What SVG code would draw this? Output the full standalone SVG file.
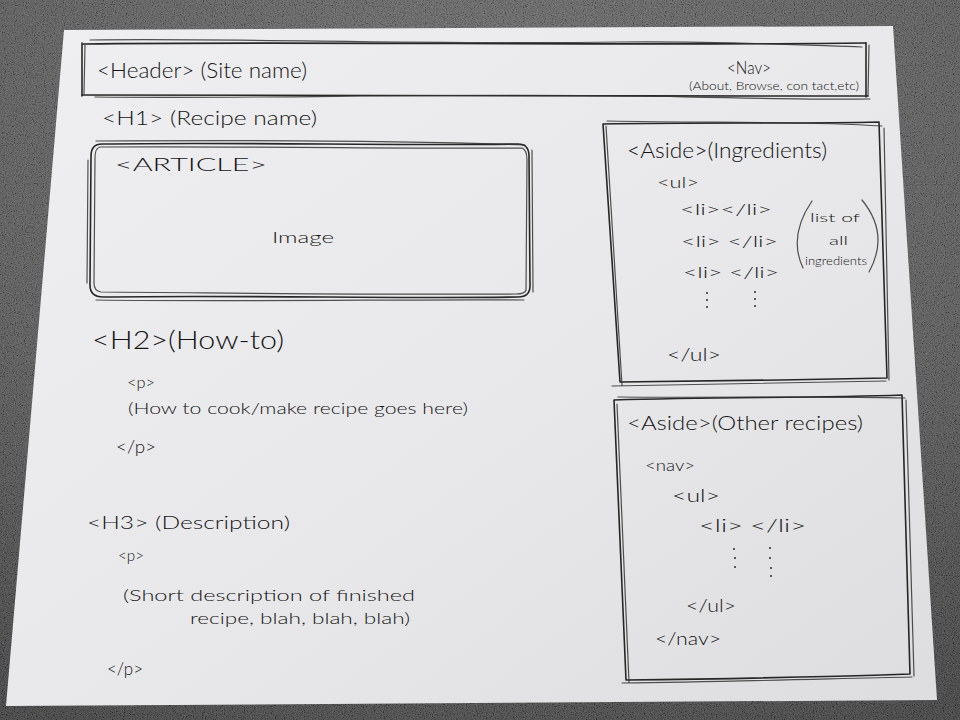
<svg xmlns="http://www.w3.org/2000/svg" width="960" height="720" viewBox="0 0 960 720">
  <defs>
    <filter id="grain" x="0" y="0" width="100%" height="100%">
      <feTurbulence type="fractalNoise" baseFrequency="0.9" numOctaves="2" seed="4" result="n"/>
      <feColorMatrix in="n" type="matrix" values="1.8 0 0 0 -0.45  1.8 0 0 0 -0.45  1.8 0 0 0 -0.45  0 0 0 0 1"/>
    </filter>
    <radialGradient id="tableShade" cx="0.5" cy="0.15" r="0.95">
      <stop offset="0" stop-color="#626262"/>
      <stop offset="0.6" stop-color="#505050"/>
      <stop offset="1" stop-color="#363636"/>
    </radialGradient>
    <linearGradient id="paperShade" x1="0" y1="0" x2="1" y2="1">
      <stop offset="0" stop-color="#efeff1"/>
      <stop offset="0.55" stop-color="#e8e8ea"/>
      <stop offset="1" stop-color="#dddddf"/>
    </linearGradient>
    <style>
      .hw { font-family: Lato, "Open Sans", "DejaVu Sans", sans-serif; font-weight: 300; fill: #141414; }
      .pen { fill: none; stroke: #262626; stroke-width: 1.6; stroke-linecap: round; stroke-linejoin: round; }
      .pen2 { fill: none; stroke: #333; stroke-width: 1.2; stroke-linecap: round; stroke-linejoin: round; opacity: 0.85; }
      .dot { fill: #2a2a2a; }
    </style>
  </defs>

  <!-- table surface -->
  <rect x="0" y="0" width="960" height="720" fill="url(#tableShade)"/>
  <rect x="0" y="0" width="960" height="720" filter="url(#grain)" opacity="0.2"/>

  <!-- sheet of paper -->
  <polygon points="64,30 893,26 937,700 6,706" fill="url(#paperShade)"/>

  <!-- header band -->
  <g id="header">
    <path class="pen" d="M83,44 C300,41 600,46 866,43"/>
    <path class="pen2" d="M90,40 C250,38 420,45 620,42 C720,41 800,45 862,47"/>
    <path class="pen" d="M82,95 C300,93 600,97 868,96"/>
    <path class="pen2" d="M95,97 C280,99 420,93 640,96 C740,98 820,100 870,99"/>
    <path class="pen" d="M82,43 L82,96"/>
    <path class="pen2" d="M85,45 L84,94"/>
    <path class="pen" d="M866,43 L866,97"/>
    <path class="pen2" d="M869,45 L868,96"/>
    <text class="hw" x="97" y="78" font-size="21" textLength="210" lengthAdjust="spacingAndGlyphs">&lt;Header&gt; (Site name)</text>
    <text class="hw" x="727" y="74" font-size="17" textLength="44" lengthAdjust="spacingAndGlyphs">&lt;Nav&gt;</text>
    <text class="hw" x="689" y="90" font-size="11.5" textLength="170" lengthAdjust="spacingAndGlyphs">(About, Browse, con tact,etc)</text>
  </g>

  <g id="h1">
    <text class="hw" x="102" y="125" font-size="20" textLength="215" lengthAdjust="spacingAndGlyphs">&lt;H1&gt; (Recipe name)</text>
  </g>

  <!-- article with image -->
  <g id="article">
    <path class="pen" d="M102,144 C250,142 400,146 518,144 Q529,144 529,156 L530,286 Q530,297 518,297 C400,299 250,295 103,297 Q90,297 90,285 L91,156 Q91,144 102,144 Z"/>
    <path class="pen2" d="M100,147 C260,146 410,149 522,148 Q527,150 527,160 L526,290 Q525,294 516,294 C380,295 240,293 101,292 Q94,291 94,283 L95,158 Q95,148 100,147 Z"/>
    <path class="pen2" d="M96,141 C240,140 420,141 525,145 M532,150 L533,292 M88,160 L87,283 M96,300 C250,302 420,299 524,300"/>
    <text class="hw" x="115" y="171" font-size="18" textLength="152" lengthAdjust="spacingAndGlyphs">&lt;ARTICLE&gt;</text>
    <text class="hw" x="272" y="243" font-size="16" textLength="62" lengthAdjust="spacingAndGlyphs">Image</text>
  </g>

  <g id="h2">
    <text class="hw" x="92" y="349" font-size="26" textLength="192" lengthAdjust="spacingAndGlyphs">&lt;H2&gt;(How-to)</text>
    <text class="hw" x="127" y="388" font-size="16" textLength="28" lengthAdjust="spacingAndGlyphs">&lt;p&gt;</text>
    <text class="hw" x="128" y="414" font-size="15" textLength="340" lengthAdjust="spacingAndGlyphs">(How to cook/make recipe goes here)</text>
    <text class="hw" x="116" y="453" font-size="17" textLength="40" lengthAdjust="spacingAndGlyphs">&lt;/p&gt;</text>
  </g>

  <g id="h3">
    <text class="hw" x="87" y="529" font-size="17" textLength="203" lengthAdjust="spacingAndGlyphs">&lt;H3&gt; (Description)</text>
    <text class="hw" x="118" y="561" font-size="15" textLength="26" lengthAdjust="spacingAndGlyphs">&lt;p&gt;</text>
    <text class="hw" x="123" y="601" font-size="16" textLength="292" lengthAdjust="spacingAndGlyphs">(Short description of finished</text>
    <text class="hw" x="190" y="624" font-size="16" textLength="220" lengthAdjust="spacingAndGlyphs">recipe, blah, blah, blah)</text>
    <text class="hw" x="107" y="675" font-size="17" textLength="36" lengthAdjust="spacingAndGlyphs">&lt;/p&gt;</text>
  </g>

  <!-- ingredients aside -->
  <g id="aside-ingredients">
    <path class="pen" d="M603,124 C700,122 800,124 879,122 L887,378 C800,380 700,381 620,382 Z"/>
    <path class="pen2" d="M607,121 C720,123 800,121 882,126 M884,128 L889,380 M606,126 L622,385 M612,386 C720,384 820,382 886,381"/>
    <text class="hw" x="627" y="158" font-size="22" textLength="200" lengthAdjust="spacingAndGlyphs">&lt;Aside&gt;(Ingredients)</text>
    <text class="hw" x="657" y="188" font-size="16" textLength="42" lengthAdjust="spacingAndGlyphs">&lt;ul&gt;</text>
    <text class="hw" x="680" y="215" font-size="16" textLength="92" lengthAdjust="spacingAndGlyphs">&lt;li&gt;&lt;/li&gt;</text>
    <text class="hw" x="681" y="247" font-size="16" textLength="97" lengthAdjust="spacingAndGlyphs">&lt;li&gt; &lt;/li&gt;</text>
    <text class="hw" x="683" y="278" font-size="16" textLength="96" lengthAdjust="spacingAndGlyphs">&lt;li&gt; &lt;/li&gt;</text>
    <circle class="dot" cx="707" cy="293" r="1"/>
    <circle class="dot" cx="707" cy="300" r="1"/>
    <circle class="dot" cx="707" cy="307" r="1"/>
    <circle class="dot" cx="755" cy="292" r="1"/>
    <circle class="dot" cx="755" cy="299" r="1"/>
    <circle class="dot" cx="755" cy="306" r="1"/>
    <text class="hw" x="667" y="361" font-size="18" textLength="54" lengthAdjust="spacingAndGlyphs">&lt;/ul&gt;</text>
    <path class="pen2" d="M812,201 Q788,236 803,268"/>
    <path class="pen2" d="M862,200 Q890,234 869,272"/>
    <text class="hw" x="810" y="222" font-size="12.5" textLength="50" lengthAdjust="spacingAndGlyphs">list of</text>
    <text class="hw" x="829" y="245" font-size="12" textLength="19" lengthAdjust="spacingAndGlyphs">all</text>
    <text class="hw" x="805" y="265" font-size="11" textLength="62" lengthAdjust="spacingAndGlyphs">ingredients</text>
  </g>

  <!-- other recipes aside -->
  <g id="aside-other">
    <path class="pen" d="M614,400 C720,397 820,398 902,395 L910,674 C820,677 720,679 626,680 Z"/>
    <path class="pen2" d="M618,397 C720,398 820,396 905,398 M906,400 L914,676 M617,404 L629,682 M622,683 C720,682 820,679 912,677"/>
    <text class="hw" x="627" y="430" font-size="20" textLength="236" lengthAdjust="spacingAndGlyphs">&lt;Aside&gt;(Other recipes)</text>
    <text class="hw" x="645" y="471" font-size="16" textLength="50" lengthAdjust="spacingAndGlyphs">&lt;nav&gt;</text>
    <text class="hw" x="672" y="502" font-size="17" textLength="48" lengthAdjust="spacingAndGlyphs">&lt;ul&gt;</text>
    <text class="hw" x="699" y="532" font-size="17" textLength="107" lengthAdjust="spacingAndGlyphs">&lt;li&gt; &lt;/li&gt;</text>
    <circle class="dot" cx="734" cy="549" r="1"/>
    <circle class="dot" cx="735" cy="558" r="1"/>
    <circle class="dot" cx="735" cy="567" r="1"/>
    <circle class="dot" cx="770" cy="548" r="1"/>
    <circle class="dot" cx="770" cy="558" r="1"/>
    <circle class="dot" cx="771" cy="568" r="1"/>
    <circle class="dot" cx="771" cy="576" r="1"/>
    <text class="hw" x="686" y="612" font-size="17" textLength="50" lengthAdjust="spacingAndGlyphs">&lt;/ul&gt;</text>
    <text class="hw" x="655" y="645" font-size="18" textLength="66" lengthAdjust="spacingAndGlyphs">&lt;/nav&gt;</text>
  </g>
</svg>
